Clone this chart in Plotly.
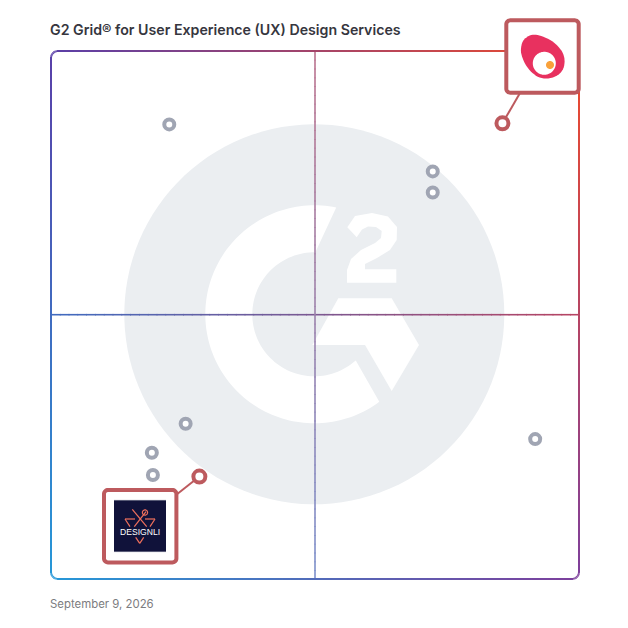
import numpy as np
import plotly.graph_objects as go

# Grid positions (0-100 on both axes)
other_x = [22.4, 72.3, 72.3, 25.5, 19.1, 19.3, 91.7]
other_y = [86.1, 77.2, 73.2, 29.4, 23.9, 19.7, 26.5]
highlight_names = ["Top right vendor", "Designli"]
highlight_x = [85.5, 28.1]
highlight_y = [86.3, 19.4]

TITLE = "G2 Grid® for User Experience (UX) Design Services"
DATE = "September 9, 2026"

# Frame of the grid in page pixels. The page body has an 8 px margin,
# so the figure starts at 8 and is kept short enough not to scroll.
LEFT, RIGHT, TOP, BOTTOM = 51, 579, 51, 579
PAGE_MARGIN = 8
FIG_SIZE = 612
PER_UNIT = (RIGHT - LEFT) / 100

CORNER_TL = (90, 63, 168)
CORNER_TR = (240, 74, 42)
CORNER_BL = (38, 152, 216)
CORNER_BR = (125, 63, 156)

ACCENT = "#bd5a5e"
MARK_GREY = "#a0a5b3"
WATERMARK = "#ebeef1"


def to_x(px):
    return (np.asarray(px, dtype=float) - LEFT) / PER_UNIT


def to_y(py):
    return (BOTTOM - np.asarray(py, dtype=float)) / PER_UNIT


def from_x(v):
    return LEFT + v * PER_UNIT


def from_y(v):
    return BOTTOM - v * PER_UNIT


def poly(points):
    # closed svg path, points given in page pixels
    bits = [f"{to_x(p[0]):.3f} {to_y(p[1]):.3f}" for p in points]
    return "M " + " L ".join(bits) + " Z"


def chaikin(points, rounds=2):
    # corner cutting, to round off a hand-read outline
    pts = np.array(points, dtype=float)
    for _ in range(rounds):
        nxt = np.roll(pts, -1, axis=0)
        pts = np.column_stack([0.75 * pts + 0.25 * nxt, 0.25 * pts + 0.75 * nxt]).reshape(-1, 2)
    return [tuple(p) for p in pts]


def circle_pts(cx, cy, r, a0=0, a1=360, n=120):
    a = np.radians(np.linspace(a0, a1, n))
    return list(zip(cx + r * np.cos(a), cy + r * np.sin(a)))


def rounded_pts(x0, y0, x1, y1, r):
    pts = []
    pts += circle_pts(x1 - r, y0 + r, r, -90, 0, 10)
    pts += circle_pts(x1 - r, y1 - r, r, 0, 90, 10)
    pts += circle_pts(x0 + r, y1 - r, r, 90, 180, 10)
    pts += circle_pts(x0 + r, y0 + r, r, 180, 270, 10)
    return pts


def grad(px, py, fade=0.0):
    # colour blend across the four corners, fade mixes it towards white
    u = (px - LEFT) / (RIGHT - LEFT)
    v = (py - TOP) / (BOTTOM - TOP)
    c = [
        (1 - u) * (1 - v) * a + u * (1 - v) * b + (1 - u) * v * d + u * v * e
        for a, b, d, e in zip(CORNER_TL, CORNER_TR, CORNER_BL, CORNER_BR)
    ]
    c = [x + (255 - x) * fade for x in c]
    return f"rgb({c[0]:.0f},{c[1]:.0f},{c[2]:.0f})"


def seg(p0, p1, color, width):
    return dict(
        type="line",
        x0=float(to_x(p0[0])), y0=float(to_y(p0[1])),
        x1=float(to_x(p1[0])), y1=float(to_y(p1[1])),
        line=dict(color=color, width=width),
        layer="below",
    )


def fill(points, color):
    return dict(type="path", path=poly(points), fillcolor=color,
                line=dict(width=0), layer="below")


def grad_line(p0, p1, width, fade=0.0, n=60):
    # short pieces that overlap a little so no gaps show between them
    out = []
    xs = np.linspace(p0[0], p1[0], n + 1)
    ys = np.linspace(p0[1], p1[1], n + 1)
    length = np.hypot(p1[0] - p0[0], p1[1] - p0[1]) or 1
    ex = (p1[0] - p0[0]) / length * 0.8
    ey = (p1[1] - p0[1]) / length * 0.8
    for i in range(n):
        col = grad((xs[i] + xs[i + 1]) / 2, (ys[i] + ys[i + 1]) / 2, fade)
        end = (xs[i + 1] + ex, ys[i + 1] + ey) if i < n - 1 else (xs[i + 1], ys[i + 1])
        out.append(seg((xs[i], ys[i]), end, col, width))
    return out


shapes = []

# G2 watermark, its centre sits a touch up and left of the cross
cx, cy = (LEFT + RIGHT) / 2, (TOP + BOTTOM) / 2
wx, wy = cx - 0.7, cy - 0.7
shapes.append(fill(circle_pts(wx, wy, 190), WATERMARK))
c_shape = circle_pts(wx, wy, 109, -78.4, -306.6, 120) + circle_pts(wx, wy, 62, -312, -89, 80)
shapes.append(fill(c_shape, "white"))
two = [(347.3, 227.3), (355, 216), (372, 213), (388, 216.5), (397, 227), (396.7, 240),
       (390, 250), (377, 258), (365, 264), (365, 269.3), (396.3, 269.3), (396.3, 282.7),
       (347, 282.7), (347, 270), (351, 259), (361, 250), (375, 243), (381, 238),
       (381.7, 231), (376, 227), (368, 226.5), (362, 229.5), (356.7, 237.3)]
shapes.append(fill(two, "white"))
hexa = [(338.3, 298.3), (391.7, 298.3), (419, 345), (391.7, 391), (365, 345), (312.3, 345)]
shapes.append(fill(hexa, "white"))

# cross lines, then the outer frame
shapes += grad_line((LEFT, cy - 0.3), (RIGHT, cy - 0.3), 1.6)
shapes += grad_line((cx, TOP), (cx, BOTTOM), 1.6, fade=0.25)
outline = rounded_pts(LEFT, TOP, RIGHT, BOTTOM, 7)
outline = outline + outline[:1]
for a, b in zip(outline[:-1], outline[1:]):
    shapes += grad_line(a, b, 2, n=max(1, int(np.hypot(b[0] - a[0], b[1] - a[1]) / 8)))

# leader lines from the two highlighted points to their logo boxes
shapes.append(seg((from_x(highlight_x[0]), from_y(highlight_y[0])), (520, 93), ACCENT, 2))
shapes.append(seg((from_x(highlight_x[1]), from_y(highlight_y[1])), (176, 495), ACCENT, 2))

# logo boxes
for x0, y0 in [(506.3, 20.3), (104, 490)]:
    box = rounded_pts(x0, y0, x0 + 72.4, y0 + 72.4, 4)
    shapes.append(dict(type="path", path=poly(box), fillcolor="white",
                       line=dict(color=ACCENT, width=4), layer="below"))

# pink logo
blob = [(520.5, 50), (522.5, 40.5), (529, 35.5), (535, 34.5), (542, 36), (551.5, 40.5),
        (558.5, 46.5), (563.5, 53.5), (565, 62), (563, 70.5), (556.5, 76.5), (547, 79),
        (538.5, 77.5), (531.5, 72.5), (525.5, 65), (522, 57)]
shapes.append(fill(chaikin(blob), "#e8315f"))
shapes.append(fill(circle_pts(544.3, 63.3, 11.5), "white"))
shapes.append(fill(circle_pts(550, 65, 4), "#f9a13a"))

# designli logo
shapes.append(fill([(114, 500), (166, 500), (166, 552), (114, 552)], "#10123a"))
shapes.append(seg((114, 500.4), (166, 500.4), "#777a90", 0.8))
shapes.append(seg((114, 551.6), (166, 551.6), "#777a90", 0.8))
coral = "#f0705c"
for a, b in [
    ((125, 519), (135, 519)), ((125, 519), (130, 526.7)),
    ((145, 519), (155, 519)), ((155, 519), (150, 526.7)),
    ((135.7, 537.3), (139.7, 543.3)), ((139.7, 543.3), (143.7, 537.3)),
    ((132.3, 509.3), (146.7, 526.7)), ((146, 511.7), (134.3, 526.7)),
]:
    shapes.append(seg(a, b, coral, 1.2))
shapes.append(dict(type="path", path=poly(circle_pts(145, 512.5, 2.6, n=24)),
                   line=dict(color=coral, width=1.2), layer="below"))

fig = go.Figure()

fig.add_trace(go.Scatter(
    x=other_x, y=other_y, mode="markers", hoverinfo="skip",
    marker=dict(size=10, color="white", line=dict(color=MARK_GREY, width=4)),
))
fig.add_trace(go.Scatter(
    x=highlight_x, y=highlight_y, mode="markers", text=highlight_names, hoverinfo="text",
    marker=dict(size=12, color="white", line=dict(color=ACCENT, width=4)),
))

fig.update_layout(
    width=FIG_SIZE,
    height=FIG_SIZE,
    margin=dict(l=0, r=0, t=0, b=0),
    paper_bgcolor="white",
    plot_bgcolor="white",
    showlegend=False,
    shapes=shapes,
    xaxis=dict(visible=False, range=[float(to_x(PAGE_MARGIN)), float(to_x(PAGE_MARGIN + FIG_SIZE))]),
    yaxis=dict(visible=False, range=[float(to_y(PAGE_MARGIN + FIG_SIZE)), float(to_y(PAGE_MARGIN))]),
    annotations=[
        dict(text=TITLE, x=float(to_x(50)), y=float(to_y(29)), xanchor="left", yanchor="middle",
             xshift=-2, showarrow=False,
             font=dict(family="Inter", size=14.2, color="#36363e", weight=600)),
        dict(text=DATE, x=float(to_x(50)), y=float(to_y(604)), xanchor="left", yanchor="middle",
             xshift=-2, showarrow=False,
             font=dict(family="Inter", size=11.4, color="#7c7c80")),
        dict(text="DESIGNLI", x=float(to_x(140)), y=float(to_y(531.5)), xanchor="center", yanchor="middle",
             showarrow=False,
             font=dict(family="Liberation Sans", size=8.6, color="white")),
    ],
)

fig.write_html("out.html")
